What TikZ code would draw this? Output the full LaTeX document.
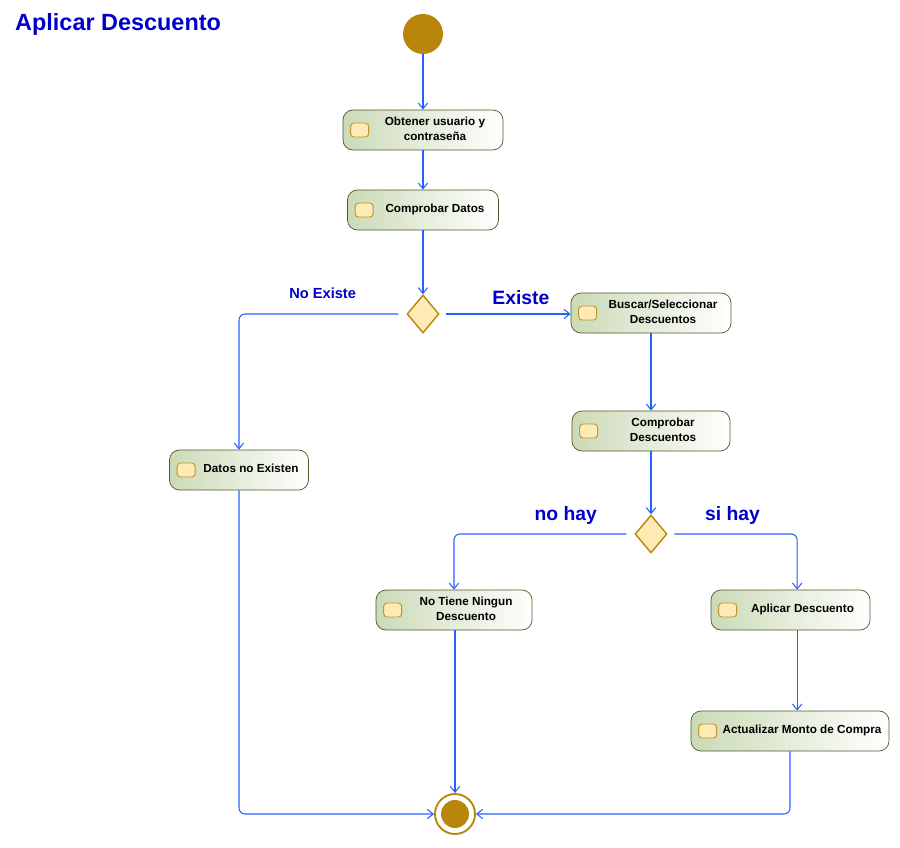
\documentclass[tikz,border=0pt]{standalone}
\usepackage{fontspec}
\setmainfont{Liberation Sans}
\usetikzlibrary{shapes,arrows.meta,positioning,calc}

\definecolor{flowblue}{RGB}{40,95,255}
\definecolor{labelblue}{RGB}{0,0,200}
\definecolor{gold}{RGB}{185,133,11}
\definecolor{actgreen}{RGB}{203,218,183}
\definecolor{actborder}{RGB}{78,88,40}
\definecolor{iconfill}{RGB}{253,234,180}
\definecolor{iconborder}{RGB}{196,148,40}

\newcommand{\acttxt}[1]{\hspace*{0.72cm}\begin{tabular}{@{}c@{}}#1\end{tabular}}

\begin{document}
\begin{tikzpicture}[
    x=0.03cm, y=-0.03cm,
    action/.style={draw=actborder, line width=0.6pt, rounded corners=0.3cm, left color=actgreen, right color=white, minimum height=1.2cm, inner sep=2pt, font=\fontsize{10}{12.75}\selectfont\bfseries},
    iconbox/.style={draw=iconborder, fill=iconfill, line width=0.8pt, rounded corners=0.1cm},
    decision/.style={diamond, draw=gold, line width=1.2pt, fill=iconfill, minimum width=0.96cm, minimum height=1.14cm, inner sep=0pt},
    startnode/.style={circle, fill=gold, minimum size=1.2cm, inner sep=0pt},
    endnode/.style={circle, draw=gold, line width=1.6pt, fill=white, minimum size=1.2cm, inner sep=0pt},
    flow/.style={draw=flowblue, line width=0.9pt, -{Straight Barb[length=5pt,width=8pt]}, rounded corners=0.18cm},
    guard/.style={text=labelblue, inner sep=0pt, font=\fontsize{16.5}{18}\selectfont\bfseries},
    guardsmall/.style={text=labelblue, inner sep=0pt, font=\fontsize{12.5}{14}\selectfont\bfseries},
    title/.style={text=labelblue, inner sep=0pt, font=\fontsize{20}{24}\selectfont\bfseries},
]
\useasboundingbox (0,0) rectangle (900,848);

\node[title, anchor=west] (title) at (15,24) {Aplicar Descuento};

% Start / end
\node[startnode] (init) at (423,34) {};
\node[endnode] (final) at (455,814) {};
\fill[gold] (final.center) circle (0.42cm);

% Actions
\node[action, minimum width=4.8cm] (act1) at (423,130) {\acttxt{Obtener usuario y\\contraseña}};
\node[action, minimum width=4.53cm] (act2) at (423,210) {\acttxt{Comprobar Datos}};
\node[action, minimum width=4.8cm] (buscar) at (651,313) {\acttxt{Buscar/Seleccionar\\Descuentos}};
\node[action, minimum width=4.74cm] (compdesc) at (651,431) {\acttxt{Comprobar\\Descuentos}};
\node[action, minimum width=4.17cm] (datos) at (239,470) {\acttxt{Datos no Existen}};
\node[action, minimum width=4.68cm] (notiene) at (454,610) {\acttxt{No Tiene Ningun\\Descuento}};
\node[action, minimum width=4.77cm] (aplicar) at (790.5,610) {\acttxt{Aplicar Descuento}};
\node[action, minimum width=5.94cm] (actualizar) at (790,731) {\acttxt{Actualizar Monto de Compra}};

\foreach \n in {act1,act2,buscar,compdesc,datos,notiene,aplicar,actualizar}
  \draw[iconbox] ([xshift=0.24cm,yshift=-0.21cm]\n.west) rectangle ++(0.54cm,0.42cm);

% Decisions
\node[decision] (dec1) at (423,314) {};
\node[decision] (dec2) at (651,534) {};

% Flows
\draw[flow] (init) -- (act1);
\draw[flow] (act1) -- (act2);
\draw[flow] (act2) -- (dec1);
\draw[flow, shorten <=0.24cm] (dec1.west) -| node[pos=0.25, above=0.45cm, guardsmall] {No Existe} (datos.north);
\draw[flow, shorten <=0.2cm] (dec1.east) -- node[pos=0.62, above=0.27cm, guard] {Existe} (dec1.east -| buscar.west);
\draw[flow] (buscar) -- (compdesc);
\draw[flow] (compdesc) -- (dec2);
\draw[flow, shorten <=0.24cm] (dec2.west) -| node[pos=0.19, above=0.27cm, guard] {no hay} (notiene.north);
\draw[flow, shorten <=0.2cm] (dec2.east) -| node[pos=0.25, above=0.27cm, guard] {si hay} ([xshift=0.2cm]aplicar.north);
\draw[flow] ([xshift=0.2cm]aplicar.south) -- ([xshift=0.2cm]aplicar.south |- actualizar.north);
\draw[flow] (actualizar.south) |- (final.east);
\draw[flow] (datos.south) |- (final.west);
\draw[flow] (final.north |- notiene.south) -- (final.north);

\end{tikzpicture}
\end{document}
